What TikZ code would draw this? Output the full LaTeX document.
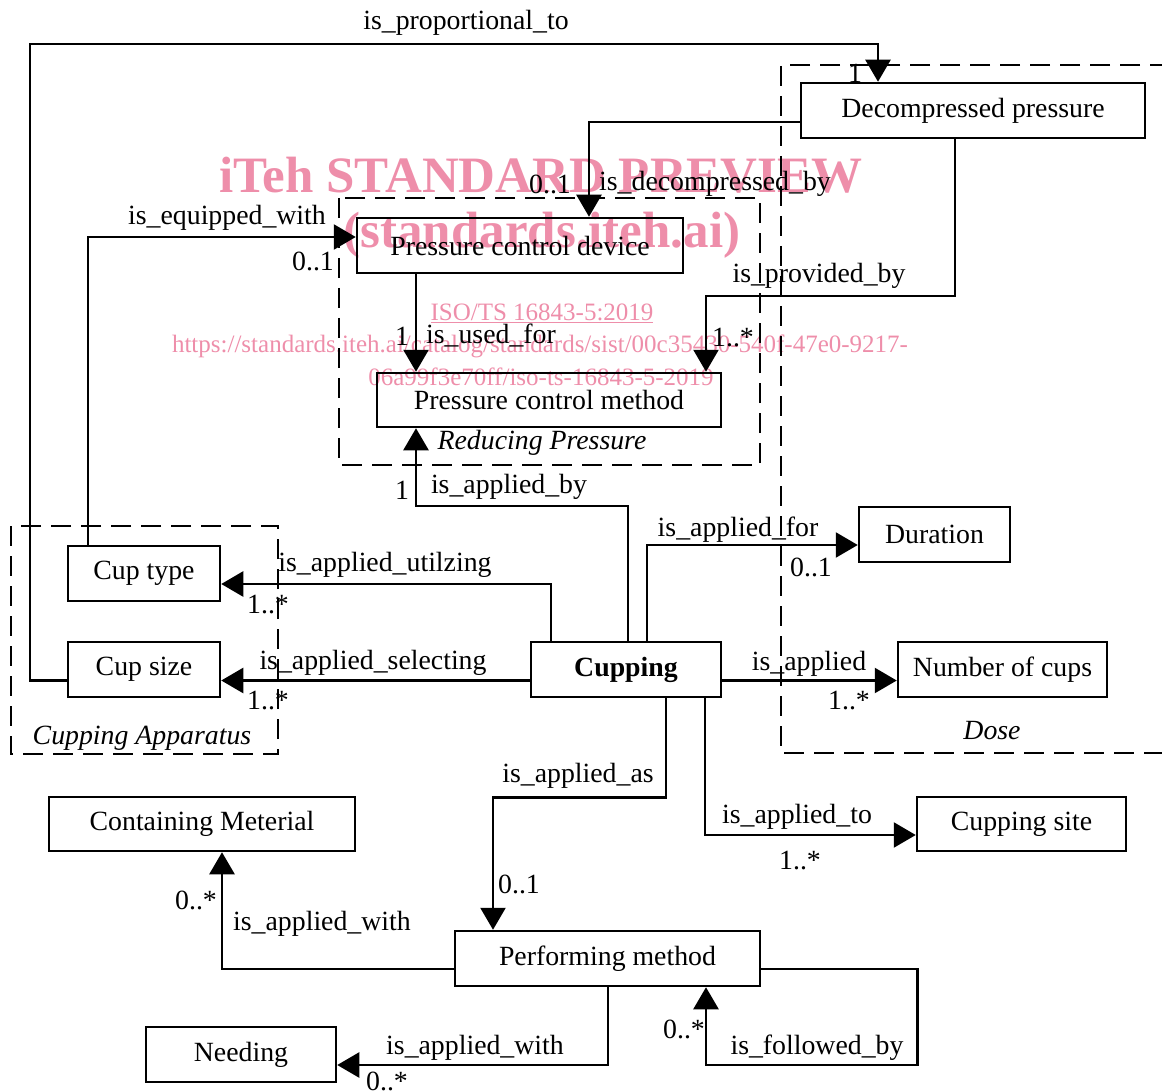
\documentclass[tikz,border=0pt]{standalone}
\usepackage{fontspec}
\setmainfont{Liberation Serif}
\usetikzlibrary{arrows.meta}
\definecolor{wmpink}{RGB}{238,142,170}
\tikzset{
  box/.style={draw, line width=2.5pt, minimum height=55pt, inner sep=0pt},
  frame/.style={line width=2.5pt, dash pattern=on 20pt off 10pt},
  assoc/.style={line width=2.5pt, -{Triangle[length=22pt,width=25pt]}},
  lbl/.style={inner sep=0pt},
  pkg/.style={inner sep=0pt, font=\itshape\fontsize{27.8}{30}\selectfont},
  wmark/.style={text=wmpink, inner sep=0pt, font=\bfseries\fontsize{51}{55}\selectfont},
  wsmall/.style={text=wmpink, inner sep=0pt, font=\fontsize{25}{28}\selectfont}
}

\begin{document}
\begin{tikzpicture}[x=1pt, y=-1pt, font=\fontsize{27.8}{30}\selectfont]
  \useasboundingbox (0,0) rectangle (1162,1091);

  % packages
  \draw[frame] (339,198) rectangle (760,465);
  \draw[frame] (11,526) rectangle (278,754);
  \draw[frame] (1170,65) -- (781,65) -- (781,753) -- (1170,753);
  \node[pkg] (pk-red) at (542,443) {Reducing Pressure};
  \node[pkg] (pk-app) at (142,738) {Cupping Apparatus};
  \node[pkg] (pk-dose) at (992,731) {Dose};

  % classes
  \node[box, minimum width=344pt] (dp) at (973,110.5) {Decompressed pressure};
  \node[box, minimum width=326pt] (pcd) at (520,245.5) {Pressure control device\hspace{20pt}};
  \node[box, minimum width=344pt, minimum height=54pt] (pcm) at (549,400) {Pressure control method};
  \node[box, minimum width=151pt] (dur) at (934.5,534.5) {Duration\hspace{10pt}};
  \node[box, minimum width=209pt] (noc) at (1002.5,669.5) {Number of cups};
  \node[box, minimum width=190pt, font=\bfseries\fontsize{27.8}{30}\selectfont] (cup) at (626,669.5) {Cupping};
  \node[box, minimum width=152pt] (ctype) at (144,573.5) {Cup type};
  \node[box, minimum width=152pt] (csize) at (144,669.5) {Cup size};
  \node[box, minimum width=306pt, minimum height=54pt] (cm) at (202,824) {Containing Meterial};
  \node[box, minimum width=209pt, minimum height=54pt] (csite) at (1021.5,824) {Cupping site};
  \node[box, minimum width=305pt] (pm) at (607.5,958.5) {Performing method\hspace{8pt}};
  \node[box, minimum width=190pt] (need) at (241,1054.5) {Needing\hspace{10pt}};

  % associations
  \draw[assoc] ([yshift=-11pt]csize.west) -| (30,44) -| ([xshift=-95pt]dp.north);
  \draw[assoc] ([yshift=-11.5pt]dp.west) -| ([xshift=69pt]pcd.north);
  \draw[assoc] ([xshift=-56pt]ctype.north) |- ([yshift=8.5pt]pcd.west);
  \draw[assoc] ([xshift=-104pt]pcd.south) -- ([xshift=-133pt]pcm.north);
  \draw[assoc] ([xshift=-18pt]dp.south) -- ++(0,157) -| ([xshift=157pt]pcm.north);
  \draw[assoc] ([xshift=2pt]cup.north) -- ++(0,-135) -| ([xshift=-133pt]pcm.south);
  \draw[assoc] ([xshift=21pt]cup.north) |- ([yshift=-10.5pt]dur.west);
  \draw[assoc] ([xshift=-75pt]cup.north) |- ([yshift=-10.5pt]ctype.east);
  \draw[assoc] ([yshift=-11pt]cup.west) -- ([yshift=-11pt]csize.east);
  \draw[assoc] ([yshift=-11pt]cup.east) -- ([yshift=-11pt]noc.west);
  \draw[assoc] ([xshift=40pt]cup.south) -- ++(0,99) -| ([xshift=-114.5pt]pm.north);
  \draw[assoc] ([xshift=79pt]cup.south) |- ([yshift=-11pt]csite.west);
  \draw[assoc] ([yshift=-10.5pt]pm.west) -| ([xshift=20pt]cm.south);
  \draw[assoc] ([xshift=0.5pt]pm.south) |- ([yshift=-10.5pt]need.east);
  \draw[assoc] ([yshift=-10.5pt]pm.east) -- ++(156,0) -- ++(0,96) -| ([xshift=98.5pt]pm.south);

  % role names
  \node[lbl] (l-prop) at (466,23) {is\_proportional\_to};
  \node[lbl] (l-decomp) at (715,184) {is\_decompressed\_by};
  \node[lbl] (l-equip) at (227,218) {is\_equipped\_with};
  \node[lbl] (l-used) at (491,336) {is\_used\_for};
  \node[lbl] (l-prov) at (819,276) {is\_provided\_by};
  \node[lbl] (l-by) at (509,487) {is\_applied\_by};
  \node[lbl] (l-for) at (738,530) {is\_applied\_for};
  \node[lbl] (l-util) at (385,565) {is\_applied\_utilzing};
  \node[lbl] (l-sel) at (373,663) {is\_applied\_selecting};
  \node[lbl] (l-appl) at (809,664) {is\_applied};
  \node[lbl] (l-as) at (578,776) {is\_applied\_as};
  \node[lbl] (l-to) at (797,817) {is\_applied\_to};
  \node[lbl] (l-with) at (322,924) {is\_applied\_with};
  \node[lbl] (l-with2) at (475,1048) {is\_applied\_with};
  \node[lbl] (l-foll) at (817,1048) {is\_followed\_by};

  % multiplicities
  \node[lbl] (m-prop) at (855,73) {1};
  \node[lbl] (m-decomp) at (550,184) {0..1};
  \node[lbl] (m-equip) at (313,261) {0..1};
  \node[lbl] (m-used) at (402,336) {1};
  \node[lbl] (m-prov) at (733,338) {1..*};
  \node[lbl] (m-by) at (402,490) {1};
  \node[lbl] (m-for) at (811,567) {0..1};
  \node[lbl] (m-util) at (268,605) {1..*};
  \node[lbl] (m-sel) at (268,701) {1..*};
  \node[lbl] (m-appl) at (849,701) {1..*};
  \node[lbl] (m-as) at (519,884) {0..1};
  \node[lbl] (m-to) at (800,861) {1..*};
  \node[lbl] (m-with) at (196,900) {0..*};
  \node[lbl] (m-foll) at (684,1029) {0..*};
  \node[lbl] (m-with2) at (387,1081) {0..*};

  % watermark
  \begin{scope}[blend mode=multiply]
    \node[wmark] (wm-1) at (541,175) {iTeh STANDARD PREVIEW};
    \node[wmark] (wm-2) at (542,235) {(standards.iteh.ai)};
    \node[wsmall] (wm-3) at (542,313) {\underline{ISO/TS 16843-5:2019}};
    \node[wsmall] (wm-4) at (540,346) {https://standards.iteh.ai/catalog/standards/sist/00c35430-540f-47e0-9217-};
    \node[wsmall] (wm-5) at (541,377) {06a99f3e70ff/iso-ts-16843-5-2019};
  \end{scope}
\end{tikzpicture}
\end{document}
